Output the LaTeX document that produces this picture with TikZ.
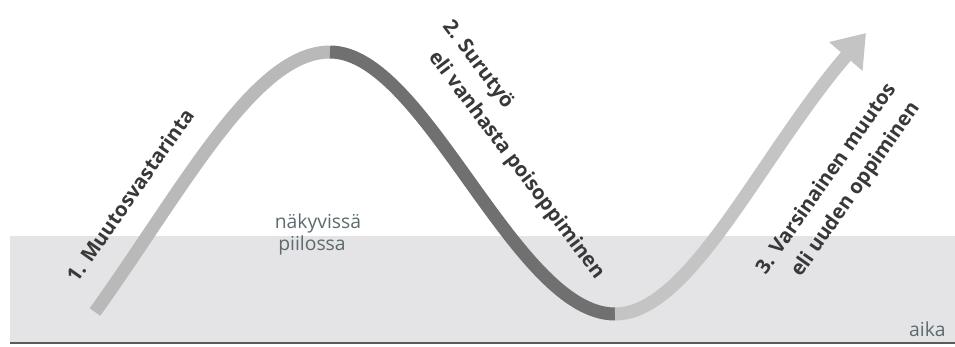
\documentclass[tikz,border=0pt]{standalone}
\usepackage{fontspec}
\setmainfont{Open Sans}
\usetikzlibrary{arrows.meta}

\definecolor{vyohyke}{HTML}{E4E4E6}
\definecolor{vaalea}{HTML}{B9B9B9}
\definecolor{tumma}{HTML}{707070}
\definecolor{aikaviiva}{HTML}{5A5A5A}
\definecolor{tekstiharmaa}{HTML}{383838}
\definecolor{kerrosteksti}{HTML}{5C6B6E}

\begin{document}
\begin{tikzpicture}[x=0.02cm, y=0.02cm, >=latex,
    kaari/.style={line width=0.26cm},
    otsikko/.style={font=\bfseries\fontsize{11.5}{17}\selectfont, text=tekstiharmaa, inner sep=0pt},
    kerros/.style={font=\fontsize{11}{13}\selectfont, text=kerrosteksti, inner sep=0pt}]
    \useasboundingbox (0,0) rectangle (955,346);

    % 1. Harmaa vyöhyke (piilossa) ja aika-akseli
    \fill[vyohyke] (10,4) rectangle (955,110);
    \draw[line width=1.3pt, aikaviiva] (10,3) -- (955,3);

    % 2. Käyrän tärkeät pisteet
    \path (95,34)   coordinate (alku)
          (330,294) coordinate (huippu)
          (615,32)  coordinate (pohja)
          (866,313) coordinate (karki);

    % 3. Käyrä kolmessa osassa
    \draw[kaari, vaalea] (alku) .. controls (185,160) and (255,294) .. (huippu);
    \draw[kaari, tumma] (huippu) .. controls (425,294) and (515,32) .. (pohja);
    \draw[kaari, vaalea!85!white, -{Triangle[width=0.84cm, length=0.62cm]}]
        (pohja) .. controls (690,32) and (760,190) .. (karki);

    % 4. Vaiheiden nimet (toinen rivi hieman sisennetty)
    \node[otsikko, rotate=55] (vastarinta) at (130,151) {1. Muutosvastarinta};
    \node[otsikko, rotate=-53, align=left] (surutyo) at (523,196)
        {2. Surutyö\\\hspace*{0.8em}eli vanhasta poisoppiminen};
    \node[otsikko, rotate=55, align=left] (muutos) at (839,158)
        {3. Varsinainen muutos\\\hspace*{0.9em}eli uuden oppiminen};

    % 5. Näkyvissä / piilossa ja aika
    \node[kerros] (nakyvissa) at (318,123) {näkyvissä};
    \node[kerros] (piilossa) at (312,101) {piilossa};
    \node[kerros, anchor=east] (aika) at (946,17) {aika};
\end{tikzpicture}
\end{document}
